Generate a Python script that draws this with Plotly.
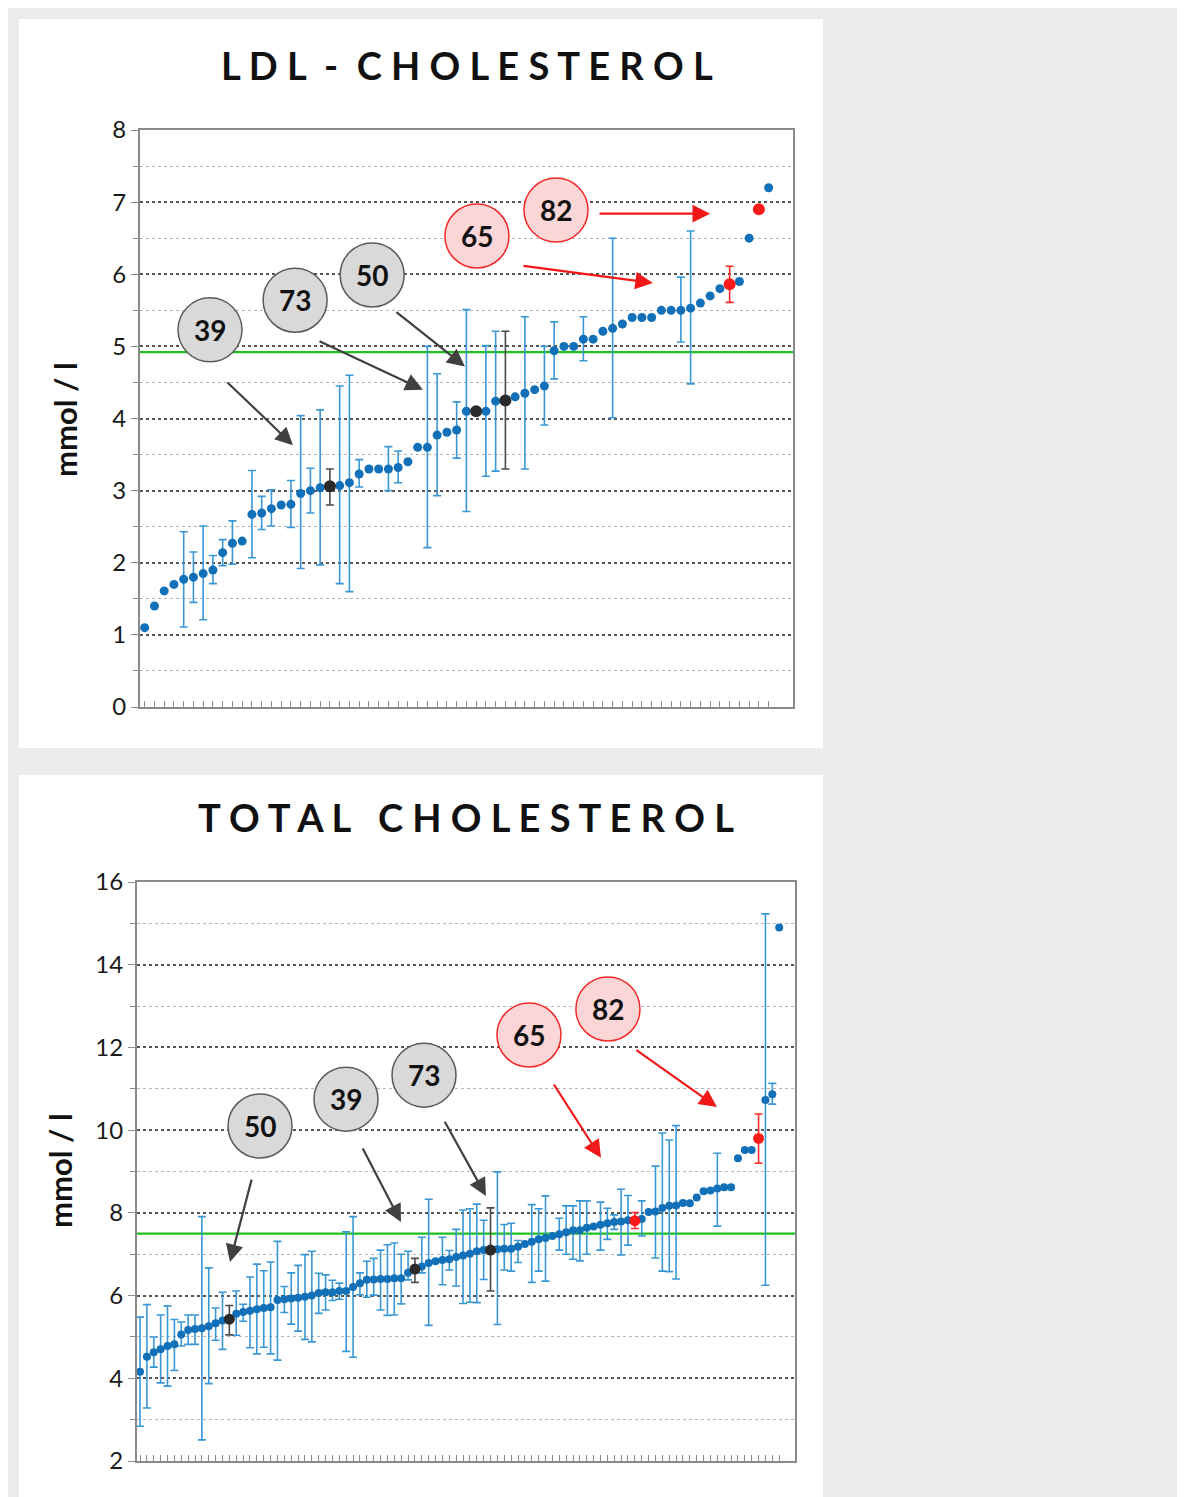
import plotly.graph_objects as go

W, H = 1172, 1489
OX, OY = 8, 8  # page offset of the figure in the browser
FONT = "Lato"

# ---------------- LDL cholesterol ----------------
ldl_values = [1.10, 1.40, 1.61, 1.70, 1.77, 1.80, 1.85, 1.90, 2.14, 2.27,
              2.30, 2.67, 2.69, 2.75, 2.80, 2.81, 2.96, 3.00, 3.04, 3.06,
              3.07, 3.11, 3.23, 3.30, 3.30, 3.30, 3.32, 3.40, 3.60, 3.60,
              3.77, 3.81, 3.84, 4.10, 4.10, 4.10, 4.24, 4.25, 4.30, 4.35,
              4.40, 4.45, 4.94, 5.00, 5.00, 5.10, 5.10, 5.21, 5.25, 5.31,
              5.40, 5.40, 5.40, 5.50, 5.50, 5.50, 5.53, 5.60, 5.70, 5.80,
              5.86, 5.90, 6.50, 6.90, 7.20]
ldl_upper = [None, None, None, None, 2.43, 2.15, 2.51, 2.10, 2.32, 2.58,
             None, 3.28, 2.92, 3.01, None, 3.14, 4.04, 3.31, 4.12, 3.30,
             4.45, 4.60, 3.43, None, None, 3.61, 3.55, None, None, 5.00,
             4.62, None, 4.23, 5.51, None, 5.01, 5.21, 5.21, None, 5.41,
             None, 5.00, 5.34, None, None, 5.41, None, None, 6.50, None,
             None, None, None, None, None, 5.96, 6.60, None, None, None,
             6.11, None, None, None, None]
ldl_lower = [None, None, None, None, 1.11, 1.45, 1.21, 1.71, 1.96, 1.98,
             None, 2.07, 2.46, 2.51, None, 2.49, 1.92, 2.69, 1.97, 2.80,
             1.71, 1.60, 3.05, None, None, 3.00, 3.11, None, None, 2.21,
             2.93, None, 3.45, 2.71, None, 3.20, 3.27, 3.30, None, 3.30,
             None, 3.91, 4.55, None, None, 4.80, None, None, 4.01, None,
             None, None, None, None, None, 5.06, 4.48, None, None, None,
             5.61, None, None, None, None]
ldl_black = [19, 34, 37]
ldl_red = [60, 63]
ldl_target = 4.92

# ---------------- Total cholesterol ----------------
tc_values = [4.16, 4.52, 4.63, 4.70, 4.78, 4.82, 5.06, 5.17, 5.19, 5.21,
             5.26, 5.33, 5.40, 5.43, 5.56, 5.60, 5.63, 5.67, 5.70, 5.72,
             5.89, 5.91, 5.93, 5.95, 5.97, 6.00, 6.06, 6.08, 6.08, 6.11,
             6.11, 6.21, 6.30, 6.38, 6.39, 6.40, 6.40, 6.42, 6.42, 6.55,
             6.64, 6.70, 6.79, 6.83, 6.86, 6.88, 6.93, 6.97, 7.01, 7.07,
             7.10, 7.10, 7.12, 7.13, 7.13, 7.18, 7.25, 7.30, 7.36, 7.39,
             7.44, 7.48, 7.53, 7.58, 7.58, 7.64, 7.67, 7.71, 7.75, 7.78,
             7.79, 7.82, 7.81, 7.85, 8.02, 8.03, 8.12, 8.17, 8.18, 8.24,
             8.23, 8.37, 8.52, 8.54, 8.59, 8.62, 8.62, 9.32, 9.52, 9.52,
             9.80, 10.73, 10.87, 14.90]
tc_upper = [5.48, 5.78, 5.00, 5.53, 5.75, 5.42, 5.36, 5.53, 5.53, 7.91,
            6.67, 5.70, 6.08, 5.76, 6.11, 5.79, 6.45, 6.76, 6.60, 6.81,
            7.31, 6.22, 6.55, 6.73, 6.99, 7.07, 6.54, 6.50, 6.37, 6.30,
            7.54, 7.91, 6.55, 6.83, 6.90, 7.10, 7.23, 7.27, 7.00, 7.07,
            6.90, 7.41, 8.33, None, 7.41, 7.09, 7.60, 8.07, 8.10, 8.21,
            7.82, 8.12, 8.99, 7.72, 7.75, 7.33, None, 8.20, 8.10, 8.41,
            None, 7.87, 8.17, 8.17, 8.29, 8.29, None, 8.26, 8.11, 7.95,
            8.57, 8.42, 8.01, 8.29, None, 9.13, 9.93, 9.76, 10.11, None,
            None, None, None, None, 9.44, None, None, None, None, None,
            10.39, 15.23, 11.13, None]
tc_lower = [2.84, 3.28, 4.27, 3.89, 3.81, 4.19, 4.78, 4.82, 4.82, 2.51,
            3.87, 4.92, 4.70, 5.05, 5.04, 5.38, 4.74, 4.59, 4.75, 4.59,
            4.44, 5.59, 5.31, 5.14, 4.94, 4.88, 5.57, 5.65, 5.88, 5.91,
            4.65, 4.51, 6.02, 5.96, 6.01, 5.65, 5.52, 5.53, 5.80, 6.38,
            6.32, 6.55, 5.28, None, 6.26, 6.62, 6.23, 5.81, 5.84, 5.83,
            6.39, 6.11, 5.30, 6.62, 6.59, 6.80, None, 6.32, 6.59, 6.35,
            None, 7.10, 7.00, 6.88, 6.84, 7.00, None, 7.10, 7.36, 7.60,
            6.98, 7.22, 7.62, 7.44, None, 6.91, 6.59, 6.58, 6.40, None,
            None, None, None, None, 7.68, None, None, None, None, None,
            9.20, 6.25, 10.63, None]
tc_black = [13, 40, 51]
tc_red = [72, 90]
tc_target = 7.5

BLUE = "#1170b8"
BLUE_BAR = "#3a97d6"
BLACK = "#2a2a2a"
BLACK_BAR = "#4a4a4a"
RED = "#ff1a1a"
RED_BAR = "#ff2a2a"

fig = go.Figure()


def add_group(idx_list, values, upper, lower, mcolor, bcolor, msize, xa, ya):
    xe, ye, pe, me = [], [], [], []
    xn, yn = [], []
    for i in idx_list:
        v = values[i]
        if upper[i] is not None:
            xe.append(i)
            ye.append(v)
            pe.append(upper[i] - v)
            me.append(v - lower[i])
        else:
            xn.append(i)
            yn.append(v)
    if xe:
        fig.add_trace(go.Scatter(
            x=xe, y=ye, mode="markers", xaxis=xa, yaxis=ya,
            marker=dict(color=mcolor, size=msize),
            error_y=dict(type="data", symmetric=False, array=pe, arrayminus=me,
                         color=bcolor, thickness=1.6, width=4),
            showlegend=False, hoverinfo="x+y"))
    if xn:
        fig.add_trace(go.Scatter(
            x=xn, y=yn, mode="markers", xaxis=xa, yaxis=ya,
            marker=dict(color=mcolor, size=msize),
            showlegend=False, hoverinfo="x+y"))


def add_panel(values, upper, lower, black, red, msize, xa, ya):
    n = len(values)
    blue = [i for i in range(n) if i not in black and i not in red]
    add_group(blue, values, upper, lower, BLUE, BLUE_BAR, msize, xa, ya)
    add_group(black, values, upper, lower, BLACK, BLACK_BAR, msize + 3, xa, ya)
    add_group(red, values, upper, lower, RED, RED_BAR, msize + 3, xa, ya)


add_panel(ldl_values, ldl_upper, ldl_lower, ldl_black, ldl_red, 9, "x", "y")
add_panel(tc_values, tc_upper, tc_lower, tc_black, tc_red, 8, "x2", "y2")


def px_x(p):
    return (p - OX) / W


def px_y(p):
    return 1 - (p - OY) / H


axis_common = dict(showline=True, linecolor="#8a8a8a", linewidth=2, mirror=True,
                   zeroline=False, automargin=False)
grid_major = dict(showgrid=True, gridcolor="#555555", griddash="dot", gridwidth=1.5)

fig.update_layout(
    width=W, height=H,
    autosize=False,
    margin=dict(l=0, r=0, t=0, b=0, pad=0),
    paper_bgcolor="#ececec",
    plot_bgcolor="white",
    font=dict(family=FONT, color="#1a1a1a"),
    xaxis=dict(domain=[px_x(140), px_x(793)], anchor="y",
               range=[-0.48, 66.5], tickmode="array",
               tickvals=list(range(len(ldl_values))), showticklabels=False,
               ticks="inside", ticklen=6, tickcolor="#8a8a8a", tickwidth=1,
               showgrid=False, **axis_common),
    yaxis=dict(domain=[px_y(707), px_y(130)], anchor="x",
               range=[0, 8], dtick=1, ticks="outside", ticklen=7,
               tickcolor="#8a8a8a", tickfont=dict(size=24, family=FONT),
               minor=dict(dtick=0.5, ticks="outside", ticklen=5, tickcolor="#8a8a8a",
                          showgrid=True, gridcolor="#b5b5b5", griddash="dot",
                          gridwidth=1),
               **grid_major, **axis_common),
    xaxis2=dict(domain=[px_x(137), px_x(795)], anchor="y2",
                range=[-0.44, 95.3], tickmode="array",
                tickvals=list(range(len(tc_values))), showticklabels=False,
                ticks="inside", ticklen=6, tickcolor="#8a8a8a", tickwidth=1,
                showgrid=False, **axis_common),
    yaxis2=dict(domain=[px_y(1461), px_y(882)], anchor="x2",
                range=[2, 16], dtick=2, ticks="outside", ticklen=7,
                tickcolor="#8a8a8a", tickfont=dict(size=24, family=FONT),
                minor=dict(dtick=1, ticks="outside", ticklen=5, tickcolor="#8a8a8a",
                           showgrid=True, gridcolor="#b5b5b5", griddash="dot",
                           gridwidth=1),
                **grid_major, **axis_common),
)

shapes = [
    dict(type="rect", xref="paper", yref="paper", x0=px_x(19), x1=px_x(823),
         y0=px_y(748), y1=px_y(19), fillcolor="white", line=dict(width=0), layer="below"),
    dict(type="rect", xref="paper", yref="paper", x0=px_x(19), x1=px_x(823),
         y0=0, y1=px_y(775), fillcolor="white", line=dict(width=0), layer="below"),
    dict(type="line", xref="x domain", yref="y", x0=0, x1=1, y0=ldl_target, y1=ldl_target,
         line=dict(color="#1fc01f", width=2.2), layer="below"),
    dict(type="line", xref="x2 domain", yref="y2", x0=0, x1=1, y0=tc_target, y1=tc_target,
         line=dict(color="#1fc01f", width=2.2), layer="below"),
]

centered = dict(xanchor="center", yanchor="middle", showarrow=False,
                xref="paper", yref="paper")
annotations = [
    dict(text="L D L  -  C H O L E S T E R O L", x=px_x(467), y=px_y(65),
         font=dict(size=38, family=FONT, weight="bold", color="#111"), **centered),
    dict(text="T O T A L   C H O L E S T E R O L", x=px_x(466), y=px_y(817),
         font=dict(size=38, family=FONT, weight="bold", color="#111"), **centered),
    dict(text="mmol / l", x=px_x(65), y=px_y(420), textangle=-90,
         font=dict(size=31, family=FONT, weight="bold", color="#111"), **centered),
    dict(text="mmol / l", x=px_x(60), y=px_y(1171), textangle=-90,
         font=dict(size=31, family=FONT, weight="bold", color="#111"), **centered),
]

# callout bubbles: (label, colour, circle centre, arrow tail, arrow head) in data units
ldl_callouts = [
    ("39", "gray", (6.70, 5.23), (8.34, 4.52), (15.21, 3.63)),
    ("73", "gray", (15.43, 5.64), (17.78, 5.08), (28.54, 4.40)),
    ("50", "gray", (23.33, 5.99), (25.67, 5.49), (32.85, 4.72)),
    ("65", "red", (34.08, 6.53), (38.70, 6.12), (52.13, 5.88)),
    ("82", "red", (42.19, 6.89), (46.50, 6.84), (58.00, 6.84)),
]
tc_callouts = [
    ("50", "gray", (17.46, 10.10), (16.29, 8.84), (13.09, 6.81)),
    ("39", "gray", (29.97, 10.75), (32.30, 9.59), (37.97, 7.78)),
    ("73", "gray", (41.32, 11.33), (44.22, 10.24), (50.33, 8.41)),
    ("65", "red", (56.59, 12.30), (60.08, 11.14), (67.07, 9.33)),
    ("82", "red", (68.08, 12.93), (72.01, 11.96), (83.94, 10.56)),
]

for callouts, xr, yr in [(ldl_callouts, "x", "y"), (tc_callouts, "x2", "y2")]:
    for label, kind, c, tail, head in callouts:
        if kind == "gray":
            fill, edge, acol = "#d9d9d9", "#5a5a5a", "#404040"
        else:
            fill, edge, acol = "#fcd6d6", "#f02828", "#f01818"
        annotations.append(dict(
            x=head[0], y=head[1], ax=tail[0], ay=tail[1], xref=xr, yref=yr,
            axref=xr, ayref=yr, text="", showarrow=True, arrowhead=2,
            arrowsize=1.6, arrowwidth=2.2, arrowcolor=acol, standoff=0,
            startstandoff=0))
        shapes.append(dict(
            type="circle", xref=xr, yref=yr, xsizemode="pixel", ysizemode="pixel",
            xanchor=c[0], yanchor=c[1], x0=-32, x1=32, y0=-32, y1=32,
            fillcolor=fill, line=dict(color=edge, width=1.5), layer="above"))
        annotations.append(dict(
            x=c[0], y=c[1], xref=xr, yref=yr, text=label, showarrow=False,
            xanchor="center", yanchor="middle",
            font=dict(size=28, family=FONT, weight="bold", color="#111")))

fig.update_layout(shapes=shapes, annotations=annotations)

fig.write_html("out.html")
